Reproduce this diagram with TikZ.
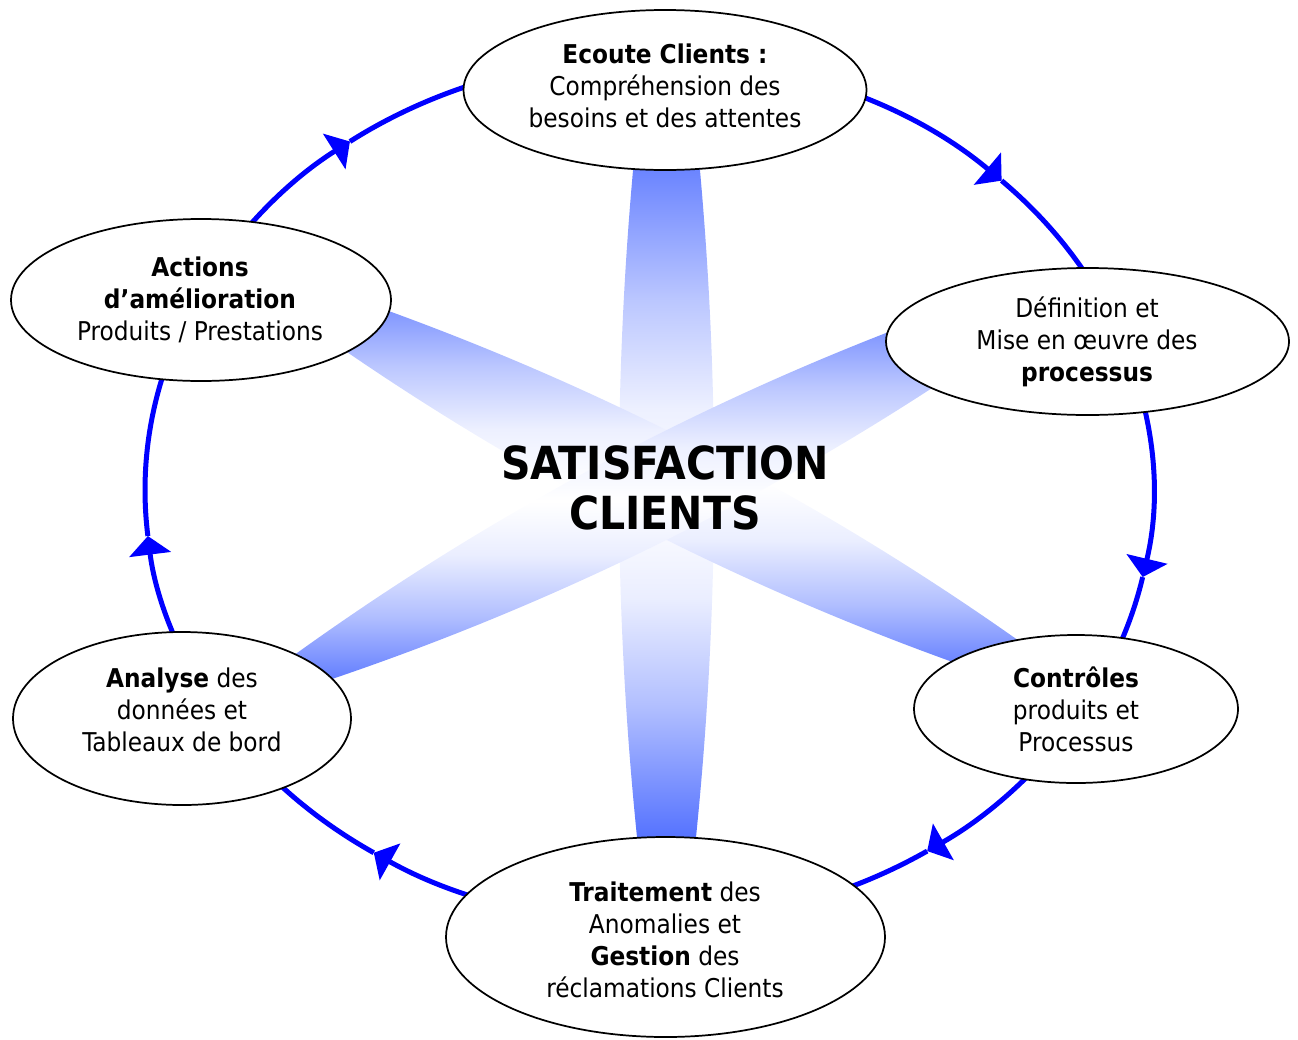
\documentclass[tikz,border=0pt]{standalone}
\usepackage{fontspec}
\setmainfont{DejaVu Sans Condensed}
\usetikzlibrary{arrows.meta,shapes.geometric,calc}
\definecolor{ringblue}{RGB}{0,0,255}
\definecolor{bandtop}{RGB}{104,130,255}
\definecolor{bandbot}{RGB}{82,112,255}
\colorlet{bandtopA}{bandtop!45!white}
\colorlet{bandtopB}{bandtop!12!white}
\colorlet{bandbotA}{bandbot!45!white}
\colorlet{bandbotB}{bandbot!12!white}
\pgfdeclareverticalshading{bandshade}{100bp}{color(0bp)=(bandbot); color(25bp)=(bandbot); color(35bp)=(bandbotA); color(43bp)=(bandbotB); color(50bp)=(white); color(57bp)=(bandtopB); color(65bp)=(bandtopA); color(75bp)=(bandtop); color(100bp)=(bandtop)}
\begin{document}
\begin{tikzpicture}[x=0.75pt,y=-0.75pt,
  band/.style={shading=bandshade, draw=none},
  ring/.style={draw=ringblue, line width=3.75pt},
  tipped/.style={-{Triangle[length=14pt,width=31pt]}},
  bubble/.style={ellipse, draw=black, line width=1.3pt, fill=white, inner sep=0pt},
  lbl/.style={align=center, font=\fontsize{19.4}{24}\selectfont, inner sep=0pt},
  title/.style={align=center, font=\fontsize{34.2}{37.5}\selectfont\bfseries, inner sep=0pt}]
\useasboundingbox (0,0) rectangle (1298,1039);
% bands
\shade[band] (633.5,165) .. controls (612.83,390.67) and (614.17,616.33) .. (637.5,842)
  -- (695.5,842) .. controls (718.83,616.33) and (720.17,390.67) .. (699.5,165) -- cycle;
\shade[band] (318.7,286.6) .. controls (574.5,371.9) and (812.1,492.9) .. (1031.5,649.8)
  -- (1014.3,683.4) .. controls (758.5,598.1) and (520.9,477.1) .. (301.5,320.2) -- cycle;
\shade[band] (277.0,667.5) .. controls (484.1,516.0) and (707.6,396.8) .. (947.6,309.8)
  -- (973.4,360.6) .. controls (762.0,503.6) and (534.2,614.4) .. (289.9,692.9) -- cycle;
% ring
\coordinate (O) at (649,490);
\draw[ring,tipped] (O) ++(272:504 and 433) arc[start angle=272,end angle=314.4,x radius=504,y radius=433];
\draw[ring] (O) ++(314.4:504 and 433) arc[start angle=314.4,end angle=333,x radius=504,y radius=433];
\draw[ring,tipped] (O) ++(-27:504 and 433) arc[start angle=-27,end angle=11.6,x radius=504,y radius=433];
\draw[ring] (O) ++(11.6:504 and 433) arc[start angle=11.6,end angle=31,x radius=504,y radius=433];
\draw[ring,tipped] (O) ++(31:504 and 433) arc[start angle=31,end angle=56.5,x radius=504,y radius=433];
\draw[ring] (O) ++(56.5:504 and 433) arc[start angle=56.5,end angle=88,x radius=504,y radius=433];
\draw[ring,tipped] (O) ++(88:504 and 433) arc[start angle=88,end angle=123.1,x radius=504,y radius=433];
\draw[ring] (O) ++(123.1:504 and 433) arc[start angle=123.1,end angle=150,x radius=504,y radius=433];
\draw[ring,tipped] (O) ++(150:504 and 433) arc[start angle=150,end angle=173.9,x radius=504,y radius=433];
\draw[ring] (O) ++(173.9:504 and 433) arc[start angle=173.9,end angle=206,x radius=504,y radius=433];
\draw[ring,tipped] (O) ++(206:504 and 433) arc[start angle=206,end angle=233.6,x radius=504,y radius=433];
\draw[ring] (O) ++(233.6:504 and 433) arc[start angle=233.6,end angle=272,x radius=504,y radius=433];
% ellipses
\node[bubble, minimum width=302.25pt, minimum height=120pt] (e1) at (665,90) {};
\node[bubble, minimum width=302.25pt, minimum height=110.25pt] (e2) at (1087.5,341.5) {};
\node[bubble, minimum width=243pt, minimum height=111pt] (e3) at (1076,709) {};
\node[bubble, minimum width=329.25pt, minimum height=150pt] (e4) at (665.5,937) {};
\node[bubble, minimum width=253.5pt, minimum height=129.75pt] (e5) at (182,718.5) {};
\node[bubble, minimum width=285pt, minimum height=121.5pt] (e6) at (201,300) {};
% texts
\node[lbl] (t1) at (665,86) {\textbf{Ecoute Clients :}\\Compréhension des\\besoins et des attentes};
\node[lbl] (t2) at (1087,342) {Définition et\\Mise en œuvre des\\\textbf{processus}};
\node[lbl] (t3) at (1076,709) {\textbf{Contrôles}\\produits et\\Processus};
\node[lbl] (t4) at (665,940) {\textbf{Traitement} des\\Anomalies et\\\textbf{Gestion} des\\réclamations Clients};
\node[lbl] (t5) at (182,710) {\textbf{Analyse} des\\données et\\Tableaux de bord};
\node[lbl] (t6) at (200,300) {\textbf{Actions}\\\textbf{d’amélioration}\\Produits / Prestations};
\node[title] (tc) at (665,488) {SATISFACTION\\CLIENTS};
\end{tikzpicture}
\end{document}
